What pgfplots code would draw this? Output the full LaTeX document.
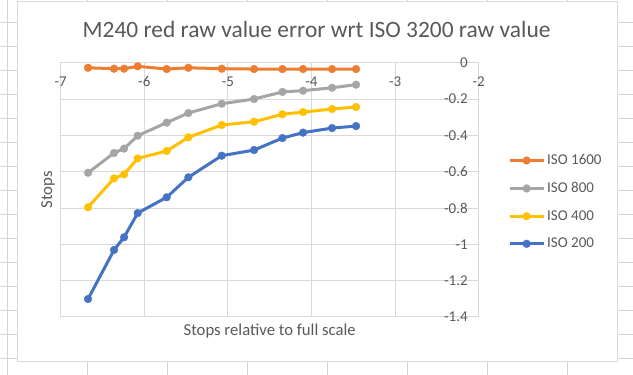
\documentclass[border=0pt]{standalone}
\usepackage{fontspec}
\setmainfont{Carlito}
\usepackage{pgfplots}
\pgfplotsset{compat=1.18}
\definecolor{textgray}{HTML}{595959}
\definecolor{gridgray}{HTML}{D9D9D9}
\definecolor{cellgray}{HTML}{D4D4D4}
\definecolor{c1600}{HTML}{ED7D31}
\definecolor{c800}{HTML}{A5A5A5}
\definecolor{c400}{HTML}{FFC000}
\definecolor{c200}{HTML}{4472C4}
\begin{document}
\begin{tikzpicture}[x=1pt,y=1pt]
\useasboundingbox (0,0) rectangle (633,375);
\begin{scope}
\clip (0,0) rectangle (633,375);
% spreadsheet cells
\foreach \xx in {7.3,87.3,...,647.3} {\draw[cellgray,line width=0.75pt] (\xx,0) -- (\xx,375);}
\foreach \yy in {16.3,40.3,...,376.3} {\draw[cellgray,line width=0.75pt] (0,\yy) -- (633,\yy);}
% chart area
\draw[gridgray,fill=white,line width=0.75pt] (17.5,14) rectangle (617.7,374);
\end{scope}
\begin{axis}[
  at={(60.7pt,58pt)}, anchor=south west,
  scale only axis, width=418pt, height=254.3pt,
  xmin=-7, xmax=-2, ymin=-1.4, ymax=0,
  xtick={-7,-6,-5,-4,-3,-2},
  xticklabels={-7,-6,-5,-4,-3,-2},
  ytick={-1.4,-1.2,-1,-0.8,-0.6,-0.4,-0.2,0},
  yticklabels={-1.4,-1.2,-1,-0.8,-0.6,-0.4,-0.2,0},
  major tick length=0pt,
  grid=major,
  major grid style={gridgray,line width=1pt},
  axis line style={gridgray,line width=1pt},
  xticklabel pos=upper,
  xticklabel style={anchor=center, yshift=-19pt},
  yticklabel pos=right,
  yticklabel style={anchor=east, xshift=-7.5pt},
  tick label style={font=\fontsize{15}{18}\selectfont, text=textgray},
  title={M240 red raw value error wrt ISO 3200 raw value},
  title style={at={(axis description cs:0.612,1)}, anchor=center, yshift=27.2pt, font=\fontsize{23.4}{28}\selectfont, text=textgray},
  xlabel={Stops relative to full scale},
  xlabel style={at={(axis description cs:0.5,0)}, anchor=center, yshift=-13.7pt, font=\fontsize{16.7}{20}\selectfont, text=textgray},
  legend style={draw=none, fill=none, at={(axis description cs:1.07,0.647)}, anchor=north west, font=\fontsize{15}{18}\selectfont, text=textgray, row sep=12.3pt, inner sep=0pt},
  legend cell align=left,
  legend image code/.code={\draw[mark repeat=2,mark phase=2] plot coordinates {(0pt,0pt)(17pt,0pt)(34pt,0pt)};},
  clip=false,
]
\addplot[c1600, line width=3pt, mark=*, mark size=3.9pt, mark options={line width=0.3pt, fill=c1600}] coordinates {
(-6.673,-0.028) (-6.362,-0.033) (-6.242,-0.033) (-6.079,-0.020) (-5.732,-0.035) (-5.473,-0.028)
(-5.074,-0.033) (-4.687,-0.035) (-4.348,-0.035) (-4.101,-0.035) (-3.754,-0.035) (-3.467,-0.035)};
\addlegendentry{ISO 1600}
\addplot[c800, line width=3pt, mark=*, mark size=3.9pt, mark options={line width=0.3pt, fill=c800}] coordinates {
(-6.673,-0.606) (-6.362,-0.497) (-6.242,-0.473) (-6.079,-0.402) (-5.732,-0.330) (-5.473,-0.277)
(-5.074,-0.226) (-4.687,-0.200) (-4.348,-0.161) (-4.101,-0.154) (-3.754,-0.138) (-3.467,-0.121)};
\addlegendentry{ISO 800}
\addplot[c400, line width=3pt, mark=*, mark size=3.9pt, mark options={line width=0.3pt, fill=c400}] coordinates {
(-6.673,-0.796) (-6.362,-0.637) (-6.242,-0.615) (-6.079,-0.527) (-5.732,-0.486) (-5.473,-0.411)
(-5.074,-0.343) (-4.687,-0.325) (-4.348,-0.284) (-4.101,-0.272) (-3.754,-0.255) (-3.467,-0.244)};
\addlegendentry{ISO 400}
\addplot[c200, line width=3pt, mark=*, mark size=3.9pt, mark options={line width=0.3pt, fill=c200}] coordinates {
(-6.673,-1.301) (-6.362,-1.031) (-6.242,-0.961) (-6.079,-0.828) (-5.732,-0.741) (-5.473,-0.631)
(-5.074,-0.512) (-4.687,-0.481) (-4.348,-0.415) (-4.101,-0.385) (-3.754,-0.360) (-3.467,-0.349)};
\addlegendentry{ISO 200}
\node[rotate=90, anchor=center, xshift=0pt, font=\fontsize{16.7}{20}\selectfont, text=textgray] at ([xshift=-12.7pt]axis description cs:0,0.5) {Stops};
\end{axis}
\end{tikzpicture}
\end{document}
